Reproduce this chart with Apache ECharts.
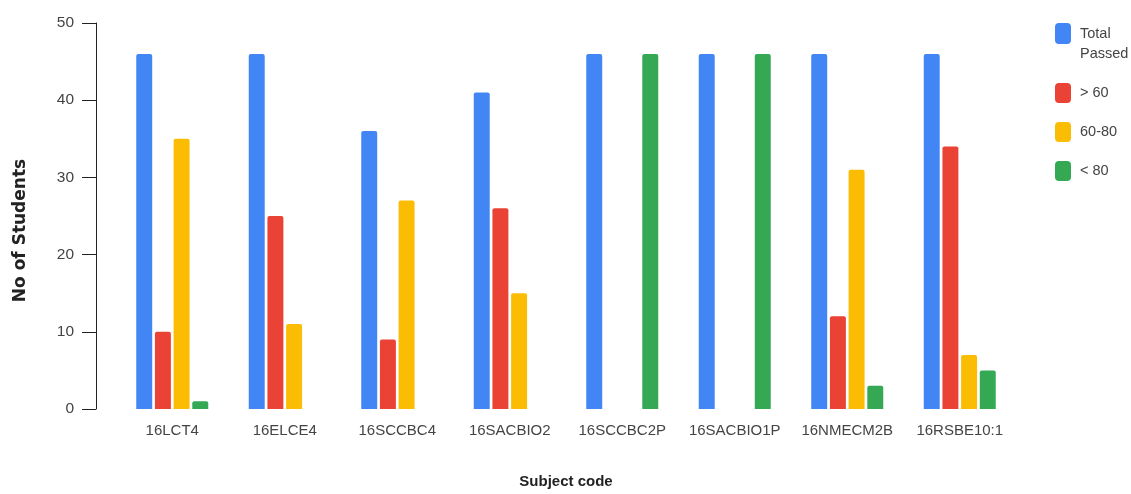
<!DOCTYPE html>
<html>
<head>
<meta charset="utf-8">
<script src="https://cdn.jsdelivr.net/npm/echarts@6/dist/echarts.min.js"></script>
<style>html,body{margin:0;padding:0;background:#fff;overflow:hidden}#c{width:1131px;height:494px}</style>
</head>
<body>
<div id="c"></div>
<script>
const categories = ['16LCT4','16ELCE4','16SCCBC4','16SACBIO2','16SCCBC2P','16SACBIO1P','16NMECM2B','16RSBE10:1'];
const totalPassed = [46, 46, 36, 41, 46, 46, 46, 46];
const above60 = [10, 25, 9, 26, 0, 0, 12, 34];
const range60to80 = [35, 11, 27, 15, 0, 0, 31, 7];
const below80 = [1, 0, 0, 0, 46, 46, 3, 5];
const yTicks = [0, 10, 20, 30, 40, 50];
const seriesNames = ['Total Passed', '> 60', '60-80', '< 80'];

const FONT = '"Liberation Sans", Arial, sans-serif';
const BOLDY = '"DejaVu Sans", sans-serif';
const colors = ['#4285F4', '#EA4335', '#FBBC04', '#34A853'];
const seriesData = [totalPassed, above60, range60to80, below80];

const chart = echarts.init(document.getElementById('c'), null, {renderer: 'canvas'});
chart.setOption({
  animation: false,
  color: colors,
  grid: {left: 116, width: 900, top: 23, height: 389, containLabel: false},
  legend: [
    {
      data: [seriesNames[0]], orient: 'vertical', left: 1055, top: 3.5, padding: 0,
      itemWidth: 16, itemHeight: 21, icon: 'roundRect',
      formatter: () => '\nTotal\nPassed',
      textStyle: {fontFamily: FONT, fontSize: 14.5, color: '#444', lineHeight: 20, padding: [0, 0, 0, 4]}
    },
    {
      data: seriesNames.slice(1), orient: 'vertical', left: 1055, top: 83, padding: 0,
      itemWidth: 16, itemHeight: 20, itemGap: 19, icon: 'roundRect',
      textStyle: {fontFamily: FONT, fontSize: 14.5, color: '#444', padding: [0, 0, 0, 4]}
    }
  ],
  xAxis: {
    type: 'category', data: categories,
    name: 'Subject code', nameLocation: 'middle', nameGap: 65,
    nameTextStyle: {fontFamily: FONT, fontSize: 15, fontWeight: 'bold', color: '#222'},
    axisLine: {show: false}, axisTick: {show: false},
    axisLabel: {fontFamily: FONT, fontSize: 15, color: '#444', margin: 14, interval: 0}
  },
  yAxis: {
    type: 'value', min: 0, max: 50, interval: 10, offset: 20,
    name: 'No of Students', nameLocation: 'middle', nameGap: 67,
    nameTextStyle: {fontFamily: BOLDY, fontSize: 17, fontWeight: 'bold', color: '#222', padding: [0, 0, 0, -29]},
    axisLine: {show: true, lineStyle: {color: '#222', width: 1}},
    axisTick: {show: true, length: 14, lineStyle: {color: '#222'}},
    axisLabel: {fontFamily: FONT, fontSize: 15.5, color: '#444', margin: 22,
      formatter: v => yTicks.includes(v) ? String(v) : ''},
    splitLine: {show: false}
  },
  series: seriesData.map((d, i) => ({
    name: seriesNames[i], type: 'bar', data: d,
    barCategoryGap: '36%', barGap: '17%',
    itemStyle: {color: colors[i], borderRadius: [2, 2, 0, 0]}
  }))
});
</script>
</body>
</html>
